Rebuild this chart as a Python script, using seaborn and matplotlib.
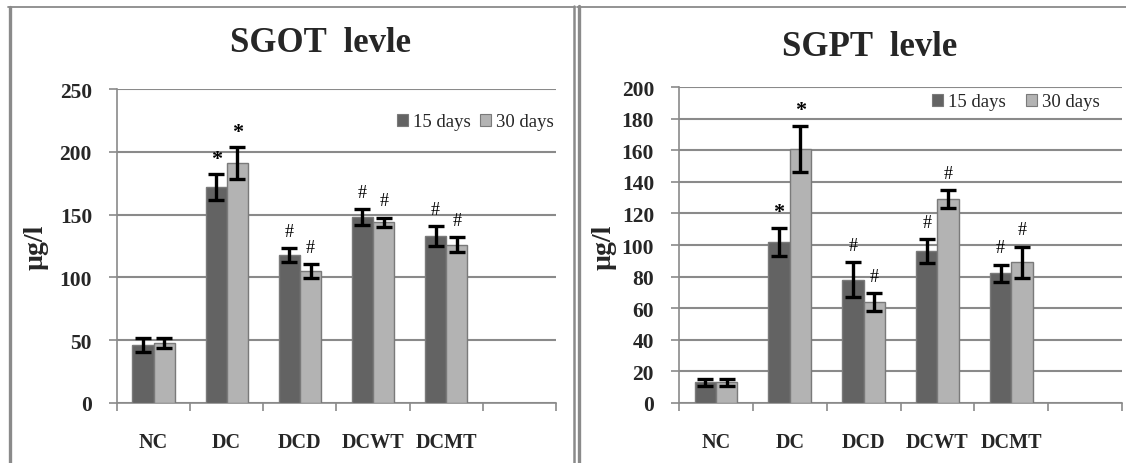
import numpy as np
import pandas as pd
import matplotlib
matplotlib.use("Agg")
import matplotlib.pyplot as plt
from matplotlib.lines import Line2D
from matplotlib.patches import Patch
from matplotlib.container import BarContainer
from matplotlib.ticker import FixedLocator
import seaborn as sns

# ---- data ----
groups = ["NC", "DC", "DCD", "DCWT", "DCMT"]
periods = ["15 days", "30 days"]

sgot_15 = [46, 172, 118, 148, 133]
sgot_30 = [48, 191, 105, 144, 126]
sgot_15_err = [5.5, 10, 5.5, 6.5, 8]
sgot_30_err = [4, 12.5, 5.5, 3.5, 6]
sgot_15_mark = ["", "*", "#", "#", "#"]
sgot_30_mark = ["", "*", "#", "#", "#"]

sgpt_15 = [13, 102, 78, 96, 82]
sgpt_30 = [13, 161, 64, 129, 89]
sgpt_15_err = [2.5, 9, 11, 7.5, 5.5]
sgpt_30_err = [2, 14.5, 5.5, 5.5, 10]
sgpt_15_mark = ["", "*", "#", "#", "#"]
sgpt_30_mark = ["", "*", "#", "#", "#"]

titles = ["SGOT  levle", "SGPT  levle"]
ylabel = "µg/l"
yticks_left = [0, 50, 100, 150, 200, 250]
yticks_right = [0, 20, 40, 60, 80, 100, 120, 140, 160, 180, 200]

# ---- style ----
sns.set_theme(style="white")
plt.rcParams["font.family"] = ["Liberation Serif", "DejaVu Serif"]

DARK = "#636363"
LIGHT = "#b3b3b3"
GRID = "#8a8a8a"

W, H = 1126, 464
fig = plt.figure(figsize=(W / 100, H / 100), dpi=100)


def fx(px):
    return px / W


def fy(py):
    return 1 - py / H


def make_panel(rect, v15, v30, e15, e30, m15, m30, yticks, title, title_xy,
               ylabel_x, legend_anchor, colspacing):
    ax = fig.add_axes(rect)
    df = pd.DataFrame({
        "group": groups * 2,
        "period": [periods[0]] * len(groups) + [periods[1]] * len(groups),
        "value": list(v15) + list(v30),
    })
    sns.barplot(data=df, x="group", y="value", hue="period", order=groups,
                hue_order=periods, palette=[DARK, LIGHT], width=0.58, gap=0,
                errorbar=None, edgecolor="#7a7a7a", linewidth=1.0, ax=ax,
                legend=False, zorder=3)
    errs = [e15, e30]
    marks = [m15, m30]
    vals = [v15, v30]
    bar_conts = [c for c in ax.containers if isinstance(c, BarContainer)]
    for k, cont in enumerate(bar_conts):
        for i, bar in enumerate(list(cont.patches)):
            xc = bar.get_x() + bar.get_width() / 2
            ax.errorbar(xc, vals[k][i], yerr=errs[k][i], color="black",
                        elinewidth=2.4, capsize=6, capthick=2.4, zorder=5)
            if marks[k][i]:
                is_star = marks[k][i] == "*"
                ax.annotate(marks[k][i], (xc, vals[k][i] + errs[k][i]),
                            xytext=(0, 4 if is_star else 6),
                            textcoords="offset points", ha="center",
                            va="bottom", fontsize=16 if is_star else 13,
                            fontweight="bold" if is_star else "normal",
                            color="black", zorder=6)
    ax.set_xlim(-0.5, len(groups) + 0.5)
    ax.set_ylim(yticks[0], yticks[-1])
    ax.set_yticks(yticks)
    ax.set_yticklabels([str(t) for t in yticks], fontsize=15.5,
                       fontweight="bold")
    ax.set_xticks(range(len(groups)))
    ax.set_xticklabels(groups, fontsize=14.5, fontweight="bold")
    ax.xaxis.set_minor_locator(FixedLocator(np.arange(-0.5, len(groups) + 1, 1.0)))
    ax.tick_params(axis="x", which="major", length=0, pad=21)
    ax.tick_params(axis="x", which="minor", length=6, width=1.2,
                   color=GRID, direction="out", bottom=True)
    ax.tick_params(axis="y", which="major", length=6, width=1.2,
                   color=GRID, direction="out", left=True, pad=12)
    ax.set_xlabel("")
    ax.set_ylabel("")
    ax.grid(axis="y", color=GRID, linewidth=1.5, zorder=0)
    ax.set_axisbelow(True)
    for s in ["top", "right"]:
        ax.spines[s].set_visible(False)
    for s in ["left", "bottom"]:
        ax.spines[s].set_color(GRID)
        ax.spines[s].set_linewidth(1.2)
    handles = [Patch(facecolor=DARK, edgecolor="#7a7a7a", linewidth=0.8),
               Patch(facecolor=LIGHT, edgecolor="#7a7a7a", linewidth=0.8)]
    ax.legend(handles, periods, loc="center right",
              bbox_to_anchor=legend_anchor, ncol=2, frameon=False,
              fontsize=13.5, handlelength=0.6, handleheight=0.6,
              handletextpad=0.25, columnspacing=colspacing, borderpad=0,
              borderaxespad=0)
    fig.text(fx(title_xy[0]), fy(title_xy[1]), title, ha="center",
             va="center", fontsize=25, fontweight="bold")
    fig.text(fx(ylabel_x), fy(247), ylabel, ha="center", va="center",
             rotation=90, fontsize=20, fontweight="bold")
    return ax


left_rect = [fx(117), fy(404), fx(556) - fx(117), (404 - 90) / H]
right_rect = [fx(679), fy(404), fx(1122) - fx(679), (404 - 88) / H]

make_panel(left_rect, sgot_15, sgot_30, sgot_15_err, sgot_30_err,
           sgot_15_mark, sgot_30_mark, yticks_left, titles[0], (321, 44),
           36, (0.995, 0.895), 0.5)
make_panel(right_rect, sgpt_15, sgpt_30, sgpt_15_err, sgpt_30_err,
           sgpt_15_mark, sgpt_30_mark, yticks_right, titles[1], (870, 48),
           604, (0.95, 0.953), 1.1)

# ---- frames ----
FR = "#8a8a8a"
fig.add_artist(Line2D([fx(8), fx(575)], [fy(7.5), fy(7.5)], color=FR, lw=1.3))
fig.add_artist(Line2D([fx(9.5), fx(9.5)], [fy(7.5), fy(464)], color=FR, lw=2.4))
fig.add_artist(Line2D([fx(573.8), fx(573.8)], [fy(7), fy(464)], color=FR, lw=1.8))
fig.add_artist(Line2D([fx(578.8), fx(578.8)], [fy(7), fy(464)], color=FR, lw=2.4))
fig.add_artist(Line2D([fx(577), fx(1126)], [fy(7.5), fy(7.5)], color=FR, lw=1.3))

fig.savefig("out.png", dpi=100, facecolor="white")
